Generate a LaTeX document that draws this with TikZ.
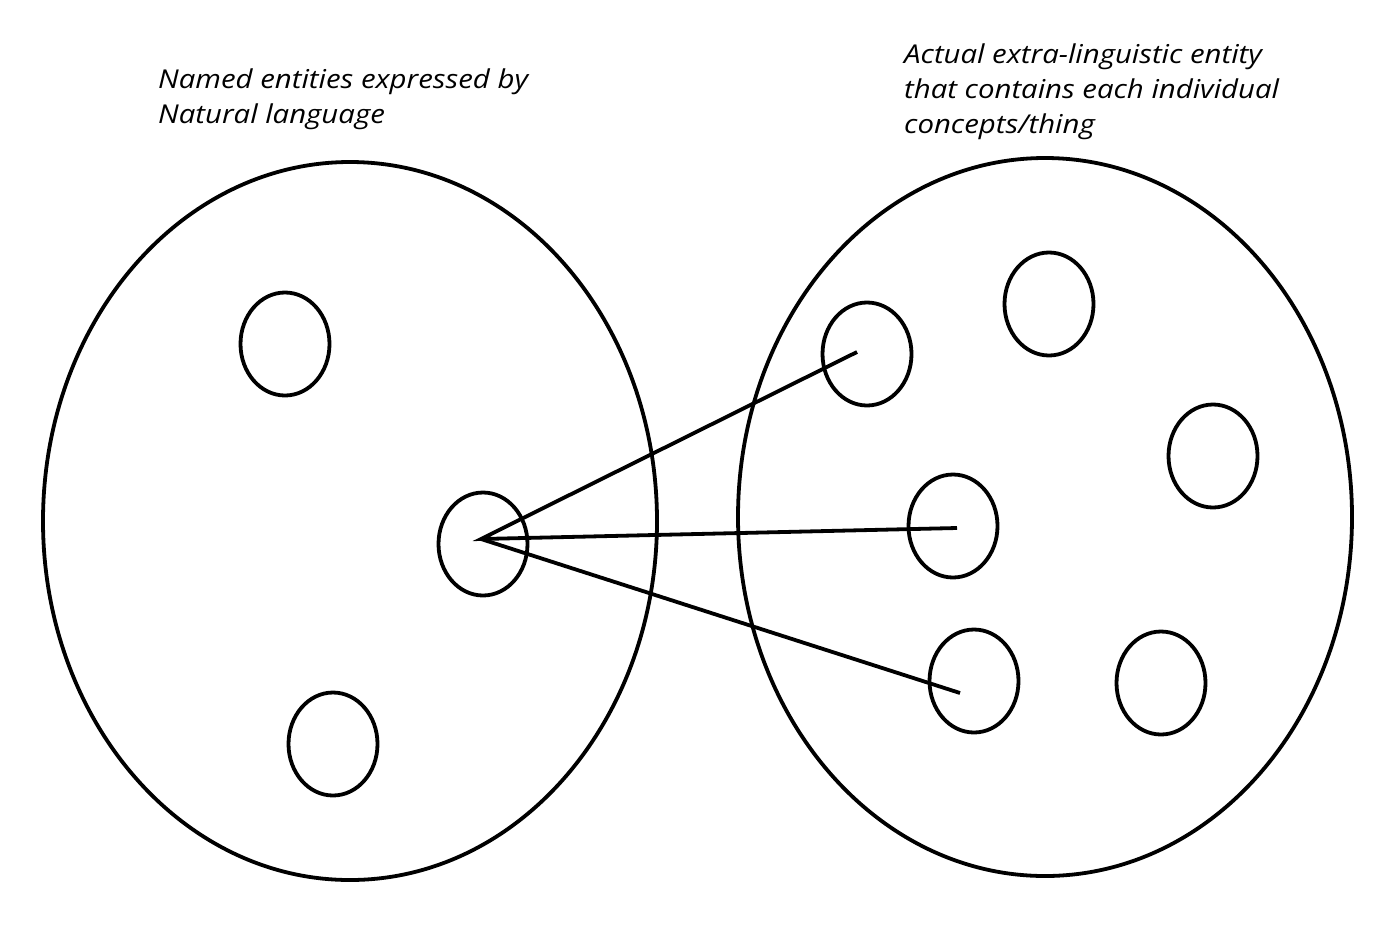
\documentclass[tikz,border=0pt]{standalone}
\usepackage{fontspec}
\usepackage{graphicx}
\setmainfont{Open Sans}
\usetikzlibrary{shapes.geometric}
\begin{document}
\begin{tikzpicture}[x=1pt,y=-1pt,
  big/.style={draw=black,line width=3.8pt,ellipse,inner sep=0pt,minimum width=614pt,minimum height=718pt},
  small/.style={draw=black,line width=3.8pt,ellipse,inner sep=0pt,minimum width=89pt,minimum height=103pt},
  link/.style={draw=black,line width=3.8pt},
  lbl/.style={anchor=base west,inner sep=0pt,font=\fontsize{26pt}{35pt}\selectfont\itshape}]
\useasboundingbox (0,0) rectangle (1394,932);
\fill[white] (0,0) rectangle (1394,932);
\node[big] (L) at (350,521) {};
\node[big] (R) at (1045,517) {};
\node[small] (l1) at (285,344) {};
\node[small] (l2) at (483,544) {};
\node[small] (l3) at (333,744) {};
\node[small] (r1) at (867,354) {};
\node[small] (r2) at (1049,304) {};
\node[small] (r3) at (1213,456) {};
\node[small] (r4) at (953,526) {};
\node[small] (r5) at (974,681) {};
\node[small] (r6) at (1161,683) {};
\coordinate (s) at (481,539);
\coordinate (e1) at (857,352);
\coordinate (e2) at (957,528);
\coordinate (e3) at (960,693);
\draw[link] (e1) -- (s) -- (e2);
\draw[link] (s) -- (e3);
\node[lbl] (t1) at (158,88) {\scalebox{1.13}[1]{\begin{tabular}[t]{@{}l@{}}Named entities expressed by\\Natural language\end{tabular}}};
\node[lbl] (t2) at (904,63) {\scalebox{1.13}[1]{\begin{tabular}[t]{@{}l@{}}Actual extra-linguistic entity\\that contains each individual\\concepts/thing\end{tabular}}};
\end{tikzpicture}
\end{document}
